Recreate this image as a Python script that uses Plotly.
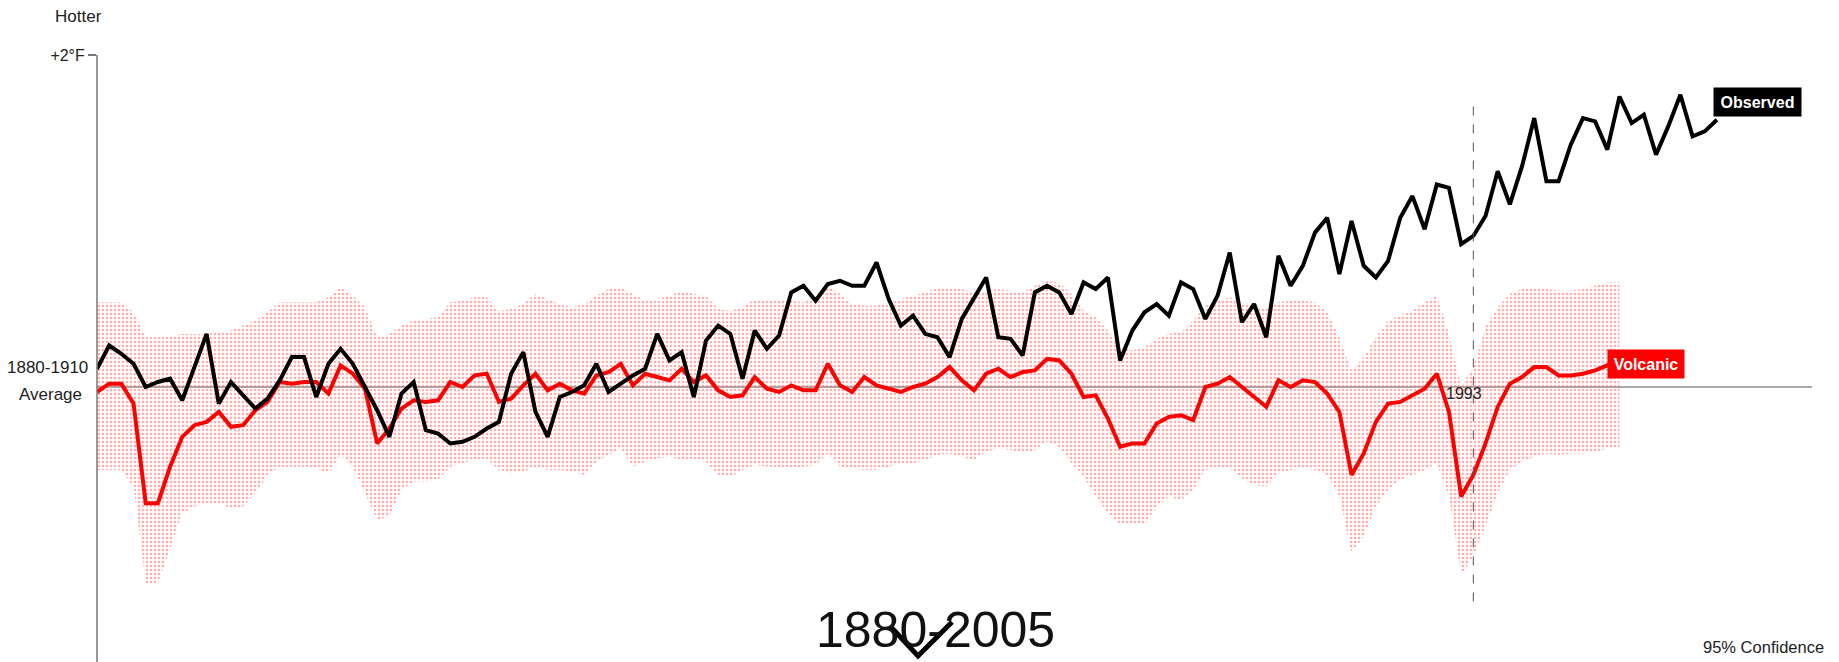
import plotly.graph_objects as go

# years
years_obs = list(range(1880, 2014))
years_model = list(range(1880, 2006))

# Observed temperature, deg F relative to 1880-1910 average
observed = [
    0.11, 0.25, 0.20, 0.14, 0.00, 0.03, 0.05, -0.08, 0.12, 0.32,
    -0.10, 0.03, -0.05, -0.13, -0.07, 0.04, 0.18, 0.18, -0.06, 0.14,
    0.23, 0.14, 0.00, -0.14, -0.30, -0.04, 0.03, -0.26, -0.28, -0.34,
    -0.33, -0.30, -0.25, -0.21, 0.08, 0.21, -0.15, -0.30, -0.06, -0.03,
    0.01, 0.14, -0.03, 0.02, 0.07, 0.11, 0.32, 0.16, 0.21, -0.06,
    0.28, 0.37, 0.32, 0.05, 0.34, 0.23, 0.31, 0.57, 0.61, 0.52,
    0.62, 0.64, 0.61, 0.61, 0.75, 0.53, 0.37, 0.43, 0.32, 0.30,
    0.18, 0.41, 0.53, 0.66, 0.30, 0.29, 0.19, 0.57, 0.61, 0.57,
    0.44, 0.63, 0.59, 0.66, 0.16, 0.34, 0.45, 0.50, 0.43, 0.63,
    0.59, 0.41, 0.55, 0.81, 0.39, 0.50, 0.30, 0.79, 0.61, 0.73,
    0.93, 1.02, 0.68, 1.00, 0.73, 0.66, 0.76, 1.02, 1.15, 0.95,
    1.22, 1.20, 0.86, 0.91, 1.03, 1.30, 1.10, 1.33, 1.62, 1.24,
    1.24, 1.46, 1.62, 1.60, 1.43, 1.75, 1.59, 1.64, 1.40, 1.57,
    1.76, 1.51, 1.54, 1.61,
]

# Volcanic forcing model response
volcanic = [
    -0.03, 0.02, 0.02, -0.10, -0.70, -0.70, -0.48, -0.30, -0.23, -0.21,
    -0.15, -0.24, -0.23, -0.14, -0.09, 0.03, 0.02, 0.03, 0.03, -0.04,
    0.13, 0.08, -0.01, -0.34, -0.25, -0.13, -0.08, -0.09, -0.08, 0.03,
    0.00, 0.07, 0.08, -0.09, -0.07, 0.01, 0.08, -0.02, 0.02, -0.02,
    -0.04, 0.07, 0.09, 0.14, 0.01, 0.08, 0.06, 0.04, 0.11, 0.03,
    0.07, -0.02, -0.06, -0.05, 0.06, -0.01, -0.03, 0.01, -0.02, -0.02,
    0.14, 0.01, -0.03, 0.06, 0.01, -0.01, -0.03, 0.00, 0.02, 0.06,
    0.12, 0.04, -0.02, 0.08, 0.11, 0.06, 0.09, 0.10, 0.17, 0.16,
    0.08, -0.06, -0.05, -0.19, -0.36, -0.34, -0.34, -0.22, -0.18, -0.17,
    -0.20, 0.00, 0.02, 0.06, 0.00, -0.06, -0.12, 0.04, 0.00, 0.04,
    0.03, -0.04, -0.15, -0.53, -0.40, -0.21, -0.10, -0.09, -0.05, -0.01,
    0.08, -0.15, -0.66, -0.53, -0.34, -0.12, 0.02, 0.06, 0.12, 0.12,
    0.07, 0.07, 0.08, 0.10, 0.13, 0.16,
]

# 95% confidence band of the volcanic model
band_upper = [
    0.51, 0.51, 0.51, 0.45, 0.30, 0.30, 0.31, 0.32, 0.32, 0.32,
    0.33, 0.34, 0.37, 0.40, 0.45, 0.51, 0.51, 0.51, 0.51, 0.54,
    0.60, 0.55, 0.48, 0.30, 0.32, 0.37, 0.40, 0.41, 0.42, 0.51,
    0.52, 0.54, 0.54, 0.46, 0.47, 0.50, 0.56, 0.53, 0.50, 0.48,
    0.50, 0.55, 0.59, 0.60, 0.56, 0.52, 0.53, 0.55, 0.58, 0.56,
    0.55, 0.47, 0.46, 0.48, 0.53, 0.53, 0.53, 0.52, 0.51, 0.55,
    0.61, 0.56, 0.50, 0.49, 0.49, 0.51, 0.53, 0.55, 0.57, 0.60,
    0.60, 0.59, 0.57, 0.58, 0.59, 0.58, 0.57, 0.61, 0.64, 0.63,
    0.56, 0.46, 0.42, 0.34, 0.24, 0.22, 0.24, 0.29, 0.32, 0.33,
    0.40, 0.49, 0.52, 0.54, 0.51, 0.49, 0.47, 0.51, 0.52, 0.52,
    0.51, 0.45, 0.30, 0.10, 0.18, 0.30, 0.40, 0.43, 0.46, 0.51,
    0.55, 0.32, 0.00, 0.12, 0.36, 0.48, 0.56, 0.59, 0.60, 0.59,
    0.58, 0.58, 0.59, 0.61, 0.63, 0.63,
]
band_lower = [
    -0.50, -0.50, -0.50, -0.60, -1.18, -1.18, -0.98, -0.76, -0.72, -0.70,
    -0.70, -0.73, -0.72, -0.64, -0.53, -0.48, -0.48, -0.48, -0.49, -0.52,
    -0.41, -0.48, -0.64, -0.80, -0.78, -0.62, -0.57, -0.57, -0.56, -0.48,
    -0.46, -0.44, -0.43, -0.50, -0.52, -0.51, -0.48, -0.50, -0.50, -0.51,
    -0.53, -0.45, -0.41, -0.37, -0.48, -0.45, -0.43, -0.42, -0.44, -0.44,
    -0.45, -0.53, -0.54, -0.50, -0.47, -0.48, -0.48, -0.49, -0.48, -0.47,
    -0.40, -0.48, -0.49, -0.50, -0.50, -0.48, -0.46, -0.46, -0.44, -0.41,
    -0.40, -0.42, -0.44, -0.39, -0.37, -0.38, -0.40, -0.38, -0.33, -0.36,
    -0.46, -0.54, -0.66, -0.76, -0.83, -0.83, -0.83, -0.72, -0.66, -0.68,
    -0.62, -0.50, -0.49, -0.49, -0.55, -0.59, -0.60, -0.52, -0.50, -0.49,
    -0.50, -0.53, -0.66, -1.00, -0.90, -0.72, -0.62, -0.56, -0.53, -0.50,
    -0.46, -0.66, -1.13, -1.02, -0.84, -0.64, -0.50, -0.45, -0.42, -0.40,
    -0.41, -0.40, -0.40, -0.39, -0.37, -0.36,
]

marker_year = 1993
FONT = "Liberation Sans, Arial, sans-serif"

W, H = 1839, 662
L = 97


def px(x, y):
    # pixel position -> paper coordinates
    return (x - L) / (W - L), 1 - y / H


fig = go.Figure()

# confidence band (dotted)
fig.add_trace(go.Scatter(x=years_model, y=band_lower, mode="lines",
                         line=dict(width=0), hoverinfo="skip", showlegend=False))
fig.add_trace(go.Scatter(x=years_model, y=band_upper, mode="lines",
                         line=dict(width=0), fill="tonexty",
                         fillcolor="rgba(0,0,0,0)",
                         fillpattern=dict(shape=".", fgcolor="#ff5c5c", bgcolor="rgba(0,0,0,0)",
                                          size=4, solidity=0.35),
                         hoverinfo="skip", showlegend=False))

fig.add_trace(go.Scatter(x=years_model, y=volcanic, mode="lines", name="Volcanic",
                         line=dict(color="#ff0000", width=4), showlegend=False))
fig.add_trace(go.Scatter(x=years_obs, y=observed, mode="lines", name="Observed",
                         line=dict(color="#000000", width=4), showlegend=False))

ymin = -(H - 387) / 166
ymax = 387 / 166

shapes = [
    # zero (average) line
    dict(type="line", xref="paper", x0=0, x1=px(1812, 0)[0], yref="y", y0=0, y1=0,
         line=dict(color="#555", width=1), layer="below"),
    # y axis line
    dict(type="line", xref="paper", x0=0, x1=0, yref="y", y0=2, y1=ymin,
         line=dict(color="#777", width=1.5)),
    # year marker
    dict(type="line", xref="x", x0=marker_year, x1=marker_year, yref="y", y0=1.69, y1=-1.32,
         line=dict(color="#555", width=1, dash="dash")),
]

# chevron over the period label
a, b, c = px(890, 626), px(918, 656), px(952, 622)
shapes.append(dict(type="path", xref="paper", yref="paper",
                   path=f"M {a[0]},{a[1]} L {b[0]},{b[1]} L {c[0]},{c[1]}",
                   line=dict(color="#000", width=5)))

small = dict(family=FONT, size=17, color="#222")

annotations = [
    dict(text="Hotter", xref="paper", yref="paper", x=px(78, 0)[0], y=px(0, 16)[1],
         xanchor="center", yanchor="middle", showarrow=False, font=small),
    dict(text="1880-1910", xref="paper", yref="y", x=0, y=0, xshift=-7, yshift=20,
         xanchor="right", yanchor="middle", showarrow=False, font=small),
    dict(text="Average", xref="paper", yref="y", x=0, y=0, xshift=-13, yshift=-7,
         xanchor="right", yanchor="middle", showarrow=False, font=small),
    dict(text="1880-2005", xref="paper", yref="paper", x=px(935, 0)[0], y=px(0, 630)[1],
         xanchor="center", yanchor="middle", showarrow=False,
         font=dict(family=FONT, size=50, color="#111")),
    dict(text="95% Confidence", xref="paper", yref="paper", x=px(1826, 0)[0], y=px(0, 647)[1],
         xanchor="right", yanchor="middle", showarrow=False,
         font=dict(family=FONT, size=16.5, color="#222")),
    dict(text=str(marker_year), xref="x", yref="y", x=marker_year, y=0, xshift=-9, yshift=-6,
         xanchor="center", yanchor="middle", showarrow=False,
         font=dict(family=FONT, size=16, color="#222")),
    dict(text="<b>Observed</b>", xref="x", yref="y", x=years_obs[-1], y=observed[-1],
         xanchor="left", yanchor="bottom", xshift=-4, yshift=3, showarrow=False,
         bgcolor="#000", borderpad=2, width=83, height=24,
         font=dict(family=FONT, size=16, color="#fff")),
    dict(text="<b>Volcanic</b>", xref="x", yref="y", x=years_model[-1], y=volcanic[-1],
         xanchor="left", yanchor="middle", xshift=-13, yshift=-4, showarrow=False,
         bgcolor="#ff0000", borderpad=2, width=72, height=24,
         font=dict(family=FONT, size=16, color="#fff")),
]

fig.update_layout(
    width=W, height=H,
    margin=dict(l=L, r=0, t=0, b=0),
    paper_bgcolor="#fff", plot_bgcolor="#fff",
    showlegend=False,
    xaxis=dict(range=[1880, 1880 + (W - L) / 12.18], visible=False),
    yaxis=dict(range=[ymin, ymax], showgrid=False, zeroline=False, showline=False,
               tickvals=[2], ticktext=["+2°F"], ticks="outside", ticklen=8,
               tickcolor="#777", tickwidth=1.5,
               tickfont=dict(family=FONT, size=16, color="#222")),
    shapes=shapes,
    annotations=annotations,
)

# page body has a default 8px margin; drop it so the chart fills the window
fig.write_html("out.html", config={"displayModeBar": False},
               post_script="document.body.style.margin='0';")
